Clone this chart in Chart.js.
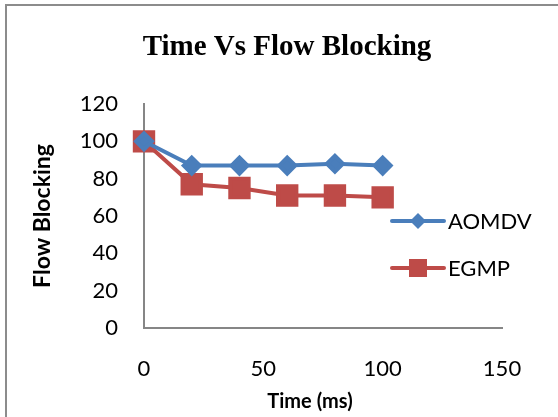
<!DOCTYPE html>
<html>
<head>
<meta charset="utf-8">
<script src="https://cdn.jsdelivr.net/npm/chart.js@4.4.0/dist/chart.umd.min.js"></script>
<style>
  html, body { margin: 0; padding: 0; background: #fff; }
  #wrap { width: 558px; height: 417px; position: relative; }
</style>
</head>
<body>
<div id="wrap"><canvas id="myChart" width="558" height="417"></canvas></div>
<script>
const times = [0, 20, 40, 60, 80, 100];
const aomdv = [100, 87, 87, 87, 88, 87];
const egmp = [100, 77, 75, 71, 71, 70];
const xTicks = [0, 50, 100, 150];
const yTicks = [0, 20, 40, 60, 80, 100, 120];
const chartTitle = 'Time Vs Flow Blocking';
const xTitle = 'Time (ms)';

const axisGrey = '#868686';
const sansFont = 'Lato, "Liberation Sans", sans-serif';

function points(ys) {
    return times.map((t, i) => ({ x: t, y: ys[i] }));
}

// cadre gris, titres, et légende posée par-dessus la zone de tracé
const framePlugin = {
    id: 'frame',
    beforeDraw(chart) {
        const c = chart.ctx;
        c.save();
        c.strokeStyle = '#8c8c8c';
        c.lineWidth = 2;
        c.beginPath();
        c.moveTo(6, 417);
        c.lineTo(6, 5);
        c.lineTo(558, 5);
        c.stroke();
        c.fillStyle = '#000';
        c.textAlign = 'center';
        c.textBaseline = 'middle';
        c.font = 'bold 29px "Liberation Serif", "Times New Roman", serif';
        c.fillText(chartTitle, 287, 48);
        c.font = 'bold 20px ' + sansFont;
        c.fillText(xTitle, 310, 402);
        c.restore();
    },
    afterDraw(chart) {
        const c = chart.ctx;
        const rows = [221, 268];
        chart.data.datasets.forEach((ds, i) => {
            const y = rows[i];
            c.save();
            c.strokeStyle = ds.borderColor;
            c.lineWidth = ds.borderWidth;
            c.lineCap = 'round';
            c.beginPath();
            c.moveTo(392, y);
            c.lineTo(444, y);
            c.stroke();
            c.fillStyle = ds.backgroundColor;
            if (ds.pointStyle === 'rectRot') {
                const r = 8;
                c.beginPath();
                c.moveTo(418, y - r);
                c.lineTo(418 + r, y);
                c.lineTo(418, y + r);
                c.lineTo(418 - r, y);
                c.closePath();
                c.fill();
            } else {
                c.fillRect(418 - 9, y - 9, 18, 18);
            }
            c.fillStyle = '#000';
            c.font = '22px ' + sansFont;
            c.textBaseline = 'middle';
            c.fillText(ds.label, 448, y + 1);
            c.restore();
        });
    }
};

const ctx = document.getElementById('myChart').getContext('2d');
new Chart(ctx, {
    type: 'scatter',
    data: {
        datasets: [{
            label: 'AOMDV',
            data: points(aomdv),
            showLine: true,
            borderColor: '#4A7EBB',
            backgroundColor: '#4A7EBB',
            borderWidth: 4,
            pointStyle: 'rectRot',
            pointRadius: 8,
            pointHoverRadius: 8,
            clip: false
        }, {
            label: 'EGMP',
            data: points(egmp),
            showLine: true,
            borderColor: '#BE4B48',
            backgroundColor: '#BE4B48',
            borderWidth: 4,
            pointStyle: 'rect',
            pointRadius: 13,
            pointHoverRadius: 13,
            clip: false
        }]
    },
    options: {
        responsive: false,
        animation: false,
        layout: { padding: { left: 0, right: 56, top: 104, bottom: 0 } },
        plugins: {
            legend: { display: false },
            tooltip: { enabled: false },
            title: { display: false }
        },
        scales: {
            x: {
                type: 'linear',
                min: 0,
                max: 150,
                afterBuildTicks: s => { s.ticks = xTicks.map(v => ({ value: v })); },
                afterFit: s => { s.height = 89; },
                grid: { display: false, drawTicks: false },
                border: { color: axisGrey, width: 2 },
                ticks: { color: '#000', padding: 28, font: { family: sansFont, size: 22 } },
                title: { display: false }
            },
            y: {
                min: 0,
                max: 120,
                afterBuildTicks: s => { s.ticks = yTicks.map(v => ({ value: v })); },
                afterFit: s => { s.width = 144; },
                grid: { display: false, drawTicks: false },
                border: { color: axisGrey, width: 2 },
                ticks: { color: '#000', padding: 26, font: { family: sansFont, size: 22 } },
                title: {
                    display: true,
                    text: 'Flow Blocking',
                    color: '#000',
                    font: { family: sansFont, size: 23, weight: 'bold' },
                    padding: { top: 29, bottom: 0 }
                }
            }
        }
    },
    plugins: [framePlugin]
});
</script>
</body>
</html>
